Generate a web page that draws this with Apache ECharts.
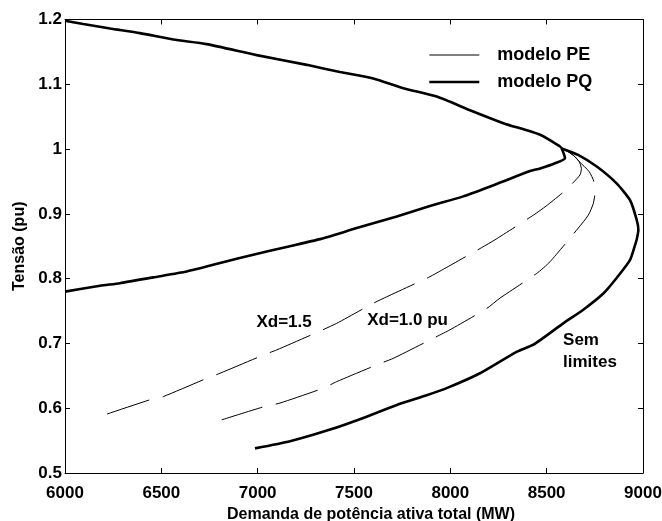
<!DOCTYPE html>
<html>
<head>
<meta charset="utf-8">
<script src="https://cdn.jsdelivr.net/npm/echarts@6/dist/echarts.min.js"></script>
<style>
  html, body { margin: 0; padding: 0; background: #fff; }
  #chart { width: 662px; height: 521px; }
</style>
</head>
<body>
<div id="chart"></div>
<script>
// PQ model: upper branch down to the generator-limit kink, then the lower branch with limits
const pqLimX = [6000, 6095, 6234, 6389, 6562, 6735, 6995, 7255, 7427, 7600, 7756, 7929, 8102, 8275, 8466, 8569, 8578,
                8595, 8543, 8466, 8414, 8240, 8067, 7894, 7722, 7514, 7324, 7150, 6977, 6805, 6632, 6458, 6285, 6182, 6000];
const pqLimY = [1.198, 1.193, 1.186, 1.179, 1.169, 1.162, 1.145, 1.130, 1.119, 1.109, 1.094, 1.081, 1.060, 1.040, 1.022, 1.004, 1.001,
                0.986, 0.978, 0.970, 0.966, 0.946, 0.927, 0.912, 0.896, 0.878, 0.861, 0.849, 0.837, 0.824, 0.811, 0.802, 0.793, 0.789, 0.780];

// PQ model without limits, continuing from the kink around the nose
const semLimX = [8578, 8663, 8760, 8863, 8933, 8967, 8976, 8967, 8959, 8933, 8863, 8794, 8690, 8586, 8431, 8344, 8154, 7981, 7877, 7722, 7548, 7376, 7168, 6986];
const semLimY = [1.001, 0.991, 0.973, 0.947, 0.921, 0.891, 0.875, 0.860, 0.852, 0.829, 0.801, 0.777, 0.752, 0.731, 0.698, 0.687, 0.654, 0.631, 0.620, 0.605, 0.585, 0.567, 0.549, 0.538];

// PE model, Xd = 1.5
const pe15X = [8595, 8640, 8668, 8680, 8673, 8600, 8497, 8431, 8232, 8163, 7955, 7894, 7670, 7600, 7410, 7315, 7099, 7029, 6805, 6735, 6510, 6441, 6208];
const pe15Y = [0.999, 0.990, 0.981, 0.970, 0.960, 0.937, 0.912, 0.898, 0.860, 0.848, 0.813, 0.803, 0.772, 0.762, 0.731, 0.718, 0.690, 0.682, 0.654, 0.646, 0.618, 0.613, 0.590];

// PE model, Xd = 1.0
const pe10X = [8595, 8640, 8668, 8721, 8745, 8751, 8742, 8716, 8664, 8517, 8448, 8258, 8189, 7998, 7912, 7704, 7635, 7410, 7341, 7116, 7029, 6813];
const pe10Y = [0.999, 0.990, 0.981, 0.965, 0.950, 0.934, 0.916, 0.898, 0.878, 0.826, 0.808, 0.770, 0.754, 0.721, 0.708, 0.677, 0.669, 0.641, 0.631, 0.608, 0.602, 0.582];

// Axis ticks
const xTicks = [6000, 6500, 7000, 7500, 8000, 8500, 9000];
const yTicks = [0.5, 0.6, 0.7, 0.8, 0.9, 1.0, 1.1, 1.2];

// Annotations
const noteText = ['Xd=1.5', 'Xd=1.0 pu', 'Sem\nlimites'];
const noteX = [7137, 7778, 8585];
const noteY = [0.732, 0.735, 0.688];

const legendNames = ['modelo PE', 'modelo PQ'];

const pairs = (xs, ys) => xs.map((x, i) => [x, ys[i]]);

const FONT = '"Liberation Sans", Arial, sans-serif';
const txt = { fontFamily: FONT, fontWeight: 'bold', fontSize: 17, color: '#000' };

const chart = echarts.init(document.getElementById('chart'), null, { renderer: 'canvas' });

const xBase = {
  type: 'value', min: xTicks[0], max: xTicks[xTicks.length - 1], interval: 500,
  axisLine: { lineStyle: { color: '#000', width: 1 } },
  axisTick: { inside: true, length: 5, lineStyle: { color: '#000' } },
  splitLine: { show: false }
};
const yBase = {
  type: 'value', min: yTicks[0], max: yTicks[yTicks.length - 1], interval: 0.1,
  axisLine: { show: true, lineStyle: { color: '#000', width: 1 } },
  axisTick: { show: true, inside: true, length: 5, lineStyle: { color: '#000' } },
  splitLine: { show: false }
};

const thin = { color: '#000', width: 1, type: [44, 14] };
const thick = { color: '#000', width: 2.6 };
const SMOOTH = 0.2;

chart.setOption({
  animation: false,
  backgroundColor: '#fff',
  grid: { left: 65, right: 19, top: 19.5, bottom: 48, outerBoundsMode: 'none', containLabel: false },
  legend: {
    data: [
      { name: legendNames[0], lineStyle: { width: 1, type: 'solid' } },
      { name: legendNames[1], lineStyle: { width: 2.6, type: 'solid' } }
    ],
    orient: 'vertical',
    left: 428, top: 46, padding: 0,
    itemWidth: 50, itemHeight: 14, itemGap: 9,
    itemStyle: { opacity: 0 },
    textStyle: Object.assign({}, txt, { fontSize: 18, lineHeight: 14, padding: [0, 0, 0, 13] }),
    selectedMode: false
  },
  xAxis: [
    Object.assign({}, xBase, {
      position: 'bottom',
      name: 'Demanda de potência ativa total (MW)',
      nameLocation: 'middle', nameGap: 30,
      nameTextStyle: Object.assign({}, txt, { fontSize: 16, padding: [0, 0, 0, 34] }),
      axisLabel: Object.assign({}, txt, { margin: 12, formatter: v => String(v) })
    }),
    Object.assign({}, xBase, { position: 'top', axisLabel: { show: false } })
  ],
  yAxis: [
    Object.assign({}, yBase, {
      position: 'left',
      name: 'Tensão (pu)',
      nameLocation: 'middle', nameGap: 34,
      nameTextStyle: Object.assign({}, txt, { fontSize: 16 }),
      axisLabel: Object.assign({}, txt, { margin: 3 })
    }),
    Object.assign({}, yBase, { position: 'right', axisLabel: { show: false } })
  ],
  series: [
    { name: 'modelo PE', type: 'line', data: pairs(pe15X, pe15Y), symbol: 'none', smooth: SMOOTH, lineStyle: thin, silent: true },
    { name: 'modelo PE', type: 'line', data: pairs(pe10X, pe10Y), symbol: 'none', smooth: SMOOTH, lineStyle: thin, silent: true },
    { name: 'modelo PQ', type: 'line', data: pairs(pqLimX, pqLimY), symbol: 'none', smooth: SMOOTH, lineStyle: thick, silent: true },
    { name: 'modelo PQ', type: 'line', data: pairs(semLimX, semLimY), symbol: 'none', smooth: SMOOTH, lineStyle: thick, silent: true },
    {
      name: 'notas', type: 'scatter', symbolSize: 0, silent: true,
      itemStyle: { color: '#000', opacity: 1 },
      data: noteText.map((t, i) => ({
        value: [noteX[i], noteY[i]],
        label: Object.assign({}, txt, {
          show: true, formatter: t, position: 'inside',
          align: i === 2 ? 'left' : 'center',
          lineHeight: 22,
          textBorderWidth: 0, textBorderColor: 'transparent'
        })
      }))
    }
  ]
});
</script>
</body>
</html>
